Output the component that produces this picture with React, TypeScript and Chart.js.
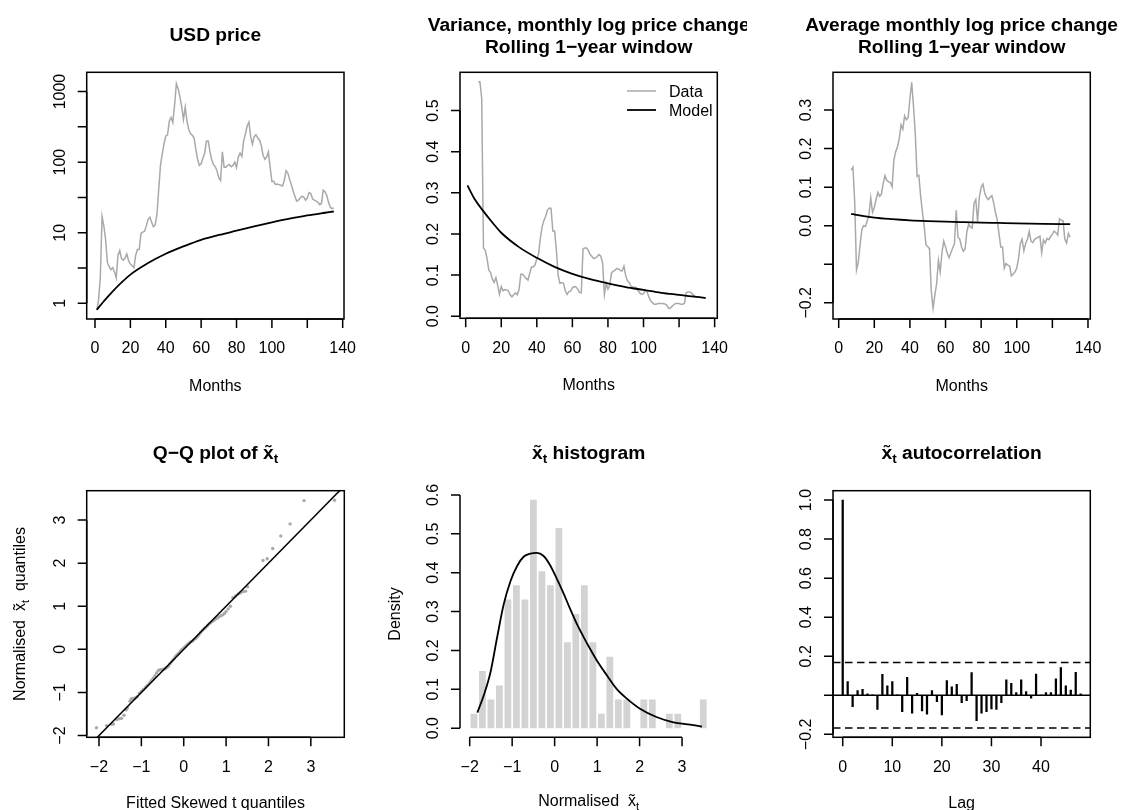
import React, { useEffect, useRef } from "react";
import { Chart, registerables } from "chart.js";
Chart.register(...registerables);

const FONT = '"Liberation Sans", Arial, Helvetica, sans-serif';
const GRAY = "#a9a9a9";
const LIGHT = "#d3d3d3";

// ---------- Panel 1: USD price ----------
const priceStartMonth = 1;
const priceUSD = [
  0.8, 1.1, 2.3, 17, 12.5, 8, 3.8, 3.3, 3.0, 3.2,
  2.8, 2.3, 4.8, 5.6, 4.3, 4.1, 4.4, 5.0, 4.0, 3.6,
  3.4, 3.2, 4.8, 5.8, 5.8, 9.8, 10.2, 10.5, 12.5, 15.5,
  16.6, 14.2, 12.2, 12.8, 18, 40, 90, 130, 180, 235,
  244, 380, 430, 365, 650, 1300, 1100, 840, 610, 400,
  600, 380, 290, 255, 240, 220, 150, 110, 90, 95,
  115, 135, 200, 200, 141, 106, 92, 86, 75, 60,
  55, 140, 85, 85, 90, 92, 86, 90, 100, 84,
  118, 134, 120, 200, 250, 325, 370, 230, 180, 230,
  245, 220, 205, 172, 125, 110, 118, 140, 85, 53,
  54, 48, 49, 48, 47, 46, 55, 76, 70, 57,
  48, 39, 33, 28, 29, 31, 33, 32, 29, 31,
  37, 36, 30, 29, 28, 27, 25, 26, 40, 38,
  34, 27, 23, 22, 22.5,
];
const priceModelMonths = [1, 5, 10, 20, 30, 40, 50, 60, 70, 80, 90, 100, 110, 120, 130, 135];
const priceModel = [0.81, 1.07, 1.48, 2.55, 3.72, 5.04, 6.41, 7.95, 9.3, 10.7, 12.3, 14.0, 15.8, 17.6, 19.2, 20.0];
const monthTicks = [0, 20, 40, 60, 80, 100, 120, 140];
const monthTickLabels = ["0", "20", "40", "60", "80", "100", "", "140"];
const priceTickExps = [0, 0.5, 1, 1.5, 2, 2.5, 3];
const priceTickLabels = ["1", "", "10", "", "100", "", "1000"];

// ---------- Panel 2: rolling variance ----------
const rollStartMonth = 7;
const rollVariance = [
  0.57, 0.57, 0.53, 0.166, 0.16, 0.14, 0.112, 0.106, 0.09, 0.082,
  0.094, 0.075, 0.053, 0.072, 0.062, 0.065, 0.064, 0.062, 0.052, 0.047,
  0.052, 0.057, 0.052, 0.065, 0.102, 0.102, 0.097, 0.092, 0.088, 0.104,
  0.12, 0.12, 0.125, 0.14, 0.152, 0.19, 0.218, 0.233, 0.243, 0.258,
  0.263, 0.262, 0.207, 0.207, 0.16, 0.1, 0.08, 0.082, 0.08, 0.062,
  0.053, 0.06, 0.061, 0.069, 0.072, 0.071, 0.066, 0.058, 0.057, 0.164,
  0.166, 0.166, 0.16, 0.15, 0.145, 0.14, 0.142, 0.145, 0.15, 0.146,
  0.13, 0.053, 0.08, 0.066, 0.075, 0.105, 0.11, 0.112, 0.116, 0.115,
  0.111, 0.11, 0.122, 0.098, 0.086, 0.082, 0.073, 0.071, 0.07, 0.07,
  0.062, 0.056, 0.053, 0.055, 0.064, 0.06, 0.047, 0.038, 0.033, 0.029,
  0.029, 0.031, 0.031, 0.031, 0.031, 0.03, 0.027, 0.02, 0.019, 0.024,
  0.028, 0.031, 0.031, 0.031, 0.029, 0.029, 0.031, 0.057, 0.059, 0.059,
  0.056, 0.052, 0.047, 0.046,
];
const varModelMonths = [1, 5, 10, 15, 20, 30, 40, 50, 60, 70, 80, 90, 100, 110, 120, 130, 135];
const varModel = [0.318, 0.285, 0.255, 0.228, 0.203, 0.168, 0.142, 0.12, 0.103, 0.09, 0.08, 0.071, 0.064, 0.057, 0.052, 0.047, 0.044];
const varTicks = [0, 0.1, 0.2, 0.3, 0.4, 0.5];
const varTickLabels = ["0.0", "0.1", "0.2", "0.3", "0.4", "0.5"];

// ---------- Panel 3: rolling mean ----------
const rollMean = [
  0.144, 0.152, 0.06, -0.115, -0.095, -0.05, -0.01, 0.0, -0.002, 0.012,
  0.028, 0.072, 0.035, 0.048, 0.068, 0.086, 0.076, 0.082, 0.11, 0.13,
  0.118, 0.114, 0.112, 0.101, 0.17, 0.192, 0.205, 0.225, 0.262, 0.25,
  0.285, 0.275, 0.28, 0.33, 0.372, 0.31, 0.24, 0.128, 0.131, 0.078,
  0.036, 0.0, -0.05, -0.054, -0.06, -0.17, -0.214, -0.18, -0.15, -0.09,
  -0.12, -0.07, -0.04, -0.055, -0.072, -0.083, -0.07, -0.058, -0.047, 0.04,
  -0.03, -0.035, -0.055, -0.066, -0.06, -0.015, 0.004, -0.003, -0.006, 0.058,
  0.068, 0.01, 0.075, 0.1, 0.108, 0.085, 0.073, 0.068, 0.074, 0.078,
  0.06, 0.035, 0.015, -0.02, -0.055, -0.055, -0.11, -0.098, -0.102, -0.105,
  -0.13, -0.125, -0.12, -0.11, -0.085, -0.046, -0.035, -0.065, -0.046, -0.035,
  -0.015, -0.04, -0.044, -0.036, -0.032, -0.03, -0.027, -0.07, -0.037, -0.045,
  -0.033, -0.036, -0.028, -0.022, -0.014, -0.018, -0.024, 0.018, 0.014, 0.013,
  -0.035, -0.045, -0.02, -0.03,
];
const meanModelMonths = [7, 10, 20, 30, 40, 50, 60, 70, 80, 90, 100, 115, 130];
const meanModel = [0.031, 0.028, 0.021, 0.017, 0.014, 0.012, 0.0105, 0.0093, 0.0082, 0.0072, 0.0062, 0.005, 0.004];
const meanTicks = [-0.2, -0.1, 0, 0.1, 0.2, 0.3];
const meanTickLabels = ["\u22120.2", "", "0.0", "0.1", "0.2", "0.3"];

// ---------- Panel 4: Q-Q ----------
const qqTheoretical = [
  -2.06, -1.82, -1.7, -1.66, -1.58, -1.52, -1.47, -1.41, -1.36, -1.33,
  -1.27, -1.24, -1.2, -1.15, -1.1, -1.05, -1.0, -0.95, -0.9, -0.86,
  -0.81, -0.77, -0.72, -0.68, -0.64, -0.6, -0.56, -0.52, -0.48, -0.44,
  -0.4, -0.36, -0.32, -0.28, -0.24, -0.2, -0.16, -0.12, -0.08, -0.04,
  0.0, 0.04, 0.08, 0.12, 0.16, 0.2, 0.24, 0.28, 0.32, 0.36,
  0.4, 0.44, 0.48, 0.52, 0.56, 0.6, 0.64, 0.68, 0.72, 0.76,
  0.8, 0.84, 0.88, 0.92, 0.96, 1.0, 1.05, 1.1, 1.16, 1.22,
  1.28, 1.34, 1.4, 1.46, 1.51, 1.87, 1.97, 2.1, 2.29, 2.51,
  2.84, 3.56,
];
const qqSample = [
  -1.82, -1.77, -1.74, -1.73, -1.63, -1.61, -1.6, -1.53, -1.4, -1.36,
  -1.2, -1.15, -1.14, -1.13, -1.1, -1.02, -0.97, -0.93, -0.88, -0.83,
  -0.78, -0.73, -0.67, -0.61, -0.55, -0.49, -0.47, -0.47, -0.46, -0.45,
  -0.42, -0.39, -0.33, -0.28, -0.23, -0.17, -0.13, -0.09, -0.04, 0.0,
  0.03, 0.07, 0.11, 0.14, 0.17, 0.19, 0.22, 0.25, 0.29, 0.34,
  0.39, 0.44, 0.48, 0.51, 0.55, 0.59, 0.62, 0.65, 0.68, 0.71,
  0.73, 0.76, 0.78, 0.8, 0.83, 0.88, 0.94, 1.0, 1.2, 1.24,
  1.28, 1.31, 1.34, 1.35, 1.45, 2.06, 2.1, 2.34, 2.63, 2.91,
  3.45, 3.46,
];
const qqRefLine = [-2.4, 3.9]; // y = x reference line
const qqTicks = [-2, -1, 0, 1, 2, 3];
const qqTickLabels = ["\u22122", "\u22121", "0", "1", "2", "3"];

// ---------- Panel 5: histogram ----------
const histMids = [
  -1.9, -1.7, -1.5, -1.3, -1.1, -0.9, -0.7, -0.5, -0.3, -0.1,
  0.1, 0.3, 0.5, 0.7, 0.9, 1.1, 1.3, 1.5, 1.7, 1.9,
  2.1, 2.3, 2.5, 2.7, 2.9, 3.1, 3.3, 3.5,
];
const histDensity = [
  0.037, 0.147, 0.074, 0.11, 0.331, 0.368, 0.331, 0.588, 0.404, 0.368,
  0.515, 0.221, 0.294, 0.368, 0.221, 0.037, 0.184, 0.074, 0.074, 0,
  0.074, 0.074, 0, 0.037, 0.037, 0, 0, 0.074,
];
const densX = [-1.82, -1.67, -1.51, -1.36, -1.2, -1.04, -0.88, -0.73, -0.57, -0.42, -0.26, -0.11, 0.05, 0.21, 0.36, 0.52, 0.68, 0.83, 0.99, 1.23, 1.46, 1.7, 2.01, 2.41, 2.8, 3.19, 3.47];
const densY = [0.04, 0.084, 0.144, 0.23, 0.318, 0.378, 0.418, 0.441, 0.449, 0.451, 0.443, 0.42, 0.385, 0.347, 0.308, 0.269, 0.235, 0.205, 0.175, 0.136, 0.101, 0.076, 0.05, 0.028, 0.015, 0.009, 0.004];
const histYTicks = [0, 0.1, 0.2, 0.3, 0.4, 0.5, 0.6];
const histYTickLabels = ["0.0", "0.1", "0.2", "0.3", "0.4", "0.5", "0.6"];

// ---------- Panel 6: ACF ----------
const acfValues = [
  1.0, 0.07, -0.058, 0.024, 0.031, 0.008, 0.003, -0.072, 0.108, 0.048,
  0.07, 0.002, -0.084, 0.092, -0.092, 0.01, -0.08, -0.096, 0.024, -0.032,
  -0.1, 0.075, 0.044, 0.056, -0.038, -0.027, 0.116, -0.13, -0.092, -0.084,
  -0.07, -0.072, -0.038, 0.079, 0.061, 0.014, 0.079, 0.019, -0.015, 0.109,
  0.001, 0.014, 0.014, 0.085, 0.142, 0.048, 0.027, 0.118, 0.008,
];
const acfBound = 0.168;
const lagTicks = [0, 10, 20, 30, 40];
const lagTickLabels = ["0", "10", "20", "30", "40"];
const acfTicks = [-0.2, 0, 0.2, 0.4, 0.6, 0.8, 1.0];
const acfTickLabels = ["\u22120.2", "", "0.2", "0.4", "0.6", "0.8", "1.0"];

// ---------- helpers ----------
type Seg = { t: string; sub?: boolean };
const XT = "x\u0303";

type PanelSpec = {
  left: number; top: number; width: number; height: number;
  area: [number, number, number, number];
  xr: [number, number]; yr: [number, number]; yLog?: boolean;
  xTicks: number[]; xLabels: string[]; yTicks: number[]; yLabels: string[];
  title: Seg[][]; titleY: number[];
  xTitle: Seg[]; xTitleDy: number; yTitle: Seg[]; yTitleX: number;
  box: boolean;
  type: "line" | "bar";
  datasets: any[];
  legend?: { x1: number; x2: number; tx: number; ys: number[]; items: { label: string; color: string; width: number }[] };
};

function drawRich(ctx: CanvasRenderingContext2D, segs: Seg[], x: number, y: number, size: number, bold: boolean, rot = false) {
  ctx.save();
  ctx.translate(x, y);
  if (rot) ctx.rotate(-Math.PI / 2);
  const f = (s: number) => `${bold ? "bold " : ""}${s}px ${FONT}`;
  let total = 0;
  const widths = segs.map((s) => {
    ctx.font = f(s.sub ? size * 0.7 : size);
    const w = ctx.measureText(s.t).width;
    total += w;
    return w;
  });
  let cx = -total / 2;
  ctx.textAlign = "left";
  ctx.textBaseline = "alphabetic";
  ctx.fillStyle = "#000";
  segs.forEach((s, i) => {
    ctx.font = f(s.sub ? size * 0.7 : size);
    ctx.fillText(s.t, cx, s.sub ? size * 0.25 : 0);
    cx += widths[i];
  });
  ctx.restore();
}

function pts(xs: number[], ys: number[]) {
  return xs.map((x, i) => ({ x, y: ys[i] }));
}
function seq(start: number, n: number) {
  return Array.from({ length: n }, (_, i) => start + i);
}

function makePlugin(spec: PanelSpec) {
  return {
    id: "rstyle",
    afterDatasetsDraw(chart: any) {
      const ctx: CanvasRenderingContext2D = chart.ctx;
      const xs = chart.scales.x;
      const ys = chart.scales.y;
      const [L, T, R, B] = spec.area;
      ctx.save();
      ctx.strokeStyle = "#000";
      ctx.fillStyle = "#000";
      ctx.lineWidth = 1.5;
      ctx.setLineDash([]);
      if (spec.box) ctx.strokeRect(L, T, R - L, B - T);
      // x axis
      const xp = spec.xTicks.map((v) => xs.getPixelForValue(v));
      ctx.beginPath();
      ctx.moveTo(xp[0], B);
      ctx.lineTo(xp[xp.length - 1], B);
      xp.forEach((p) => { ctx.moveTo(p, B); ctx.lineTo(p, B + 9); });
      ctx.stroke();
      ctx.font = `16px ${FONT}`;
      ctx.textAlign = "center";
      ctx.textBaseline = "alphabetic";
      spec.xLabels.forEach((s, i) => { if (s) ctx.fillText(s, xp[i], B + 34.3); });
      // y axis
      const yp = spec.yTicks.map((v) => ys.getPixelForValue(v));
      ctx.beginPath();
      ctx.moveTo(L, yp[0]);
      ctx.lineTo(L, yp[yp.length - 1]);
      yp.forEach((p) => { ctx.moveTo(L, p); ctx.lineTo(L - 9, p); });
      ctx.stroke();
      spec.yLabels.forEach((s, i) => {
        if (!s) return;
        ctx.save();
        ctx.translate(L - 21.7, yp[i]);
        ctx.rotate(-Math.PI / 2);
        ctx.fillText(s, 0, 0);
        ctx.restore();
      });
      ctx.restore();
      // titles
      const cx = (L + R) / 2;
      spec.title.forEach((line, i) => drawRich(ctx, line, cx, spec.titleY[i], 19.2, true));
      drawRich(ctx, spec.xTitle, cx, B + spec.xTitleDy, 16, false);
      drawRich(ctx, spec.yTitle, spec.yTitleX, (T + B) / 2, 16, false, true);
      // legend
      if (spec.legend) {
        const lg = spec.legend;
        ctx.save();
        lg.items.forEach((it, i) => {
          ctx.strokeStyle = it.color;
          ctx.lineWidth = it.width;
          ctx.beginPath();
          ctx.moveTo(lg.x1, lg.ys[i]);
          ctx.lineTo(lg.x2, lg.ys[i]);
          ctx.stroke();
          ctx.fillStyle = "#000";
          ctx.font = `16px ${FONT}`;
          ctx.textAlign = "left";
          ctx.textBaseline = "alphabetic";
          ctx.fillText(it.label, lg.tx, lg.ys[i] + 6);
        });
        ctx.restore();
      }
    },
  };
}

function Panel({ spec }: { spec: PanelSpec }) {
  const ref = useRef<HTMLCanvasElement | null>(null);
  useEffect(() => {
    if (!ref.current) return;
    const [L, T, R, B] = spec.area;
    const chart = new Chart(ref.current, {
      type: spec.type as any,
      data: { datasets: spec.datasets },
      options: {
        animation: false,
        responsive: false,
        devicePixelRatio: 1,
        events: [],
        layout: { padding: { left: L, top: T, right: spec.width - R, bottom: spec.height - B } },
        plugins: { legend: { display: false }, tooltip: { enabled: false }, title: { display: false } },
        scales: {
          x: { type: "linear", min: spec.xr[0], max: spec.xr[1], display: false, offset: false },
          y: { type: spec.yLog ? "logarithmic" : "linear", min: spec.yr[0], max: spec.yr[1], display: false },
        },
      } as any,
      plugins: [makePlugin(spec)],
    });
    return () => chart.destroy();
  }, [spec]);
  return (
    <canvas
      ref={ref}
      width={spec.width}
      height={spec.height}
      style={{ position: "absolute", left: spec.left, top: spec.top, width: spec.width, height: spec.height }}
    />
  );
}

const lineDs = (data: any[], color: string, width: number, order: number, smooth = false, extra: any = {}) => ({
  type: "line",
  data,
  borderColor: color,
  borderWidth: width,
  pointRadius: 0,
  fill: false,
  tension: 0,
  cubicInterpolationMode: smooth ? "monotone" : "default",
  order,
  ...extra,
});

const rollMonths = seq(rollStartMonth, rollVariance.length);
const rollMeanMonths = seq(rollStartMonth, rollMean.length);
const priceMonths = seq(priceStartMonth, priceUSD.length);

const P1: PanelSpec = {
  left: 0, top: 0, width: 373, height: 405,
  area: [86.7, 72.3, 344, 319],
  xr: [-4.69, 140.75], yr: [0.608, 1875], yLog: true,
  xTicks: monthTicks, xLabels: monthTickLabels,
  yTicks: priceTickExps.map((e) => Math.pow(10, e)), yLabels: priceTickLabels,
  title: [[{ t: "USD price" }]], titleY: [41],
  xTitle: [{ t: "Months" }], xTitleDy: 71.7, yTitle: [], yTitleX: 25,
  box: true, type: "line",
  datasets: [
    lineDs(pts(priceModelMonths, priceModel), "#000", 1.8, 0, true),
    lineDs(pts(priceMonths, priceUSD), GRAY, 1.5, 1),
  ],
};

const P2: PanelSpec = {
  left: 373, top: 0, width: 374, height: 405,
  area: [87, 72.3, 344.3, 318.3],
  xr: [-3.2, 141.5], yr: [-0.005, 0.593],
  xTicks: monthTicks, xLabels: monthTickLabels,
  yTicks: varTicks, yLabels: varTickLabels,
  title: [[{ t: "Variance, monthly log price change" }], [{ t: "Rolling 1\u2212year window" }]], titleY: [30.5, 53],
  xTitle: [{ t: "Months" }], xTitleDy: 71.7, yTitle: [], yTitleX: 25,
  box: true, type: "line",
  datasets: [
    lineDs(pts(varModelMonths, varModel), "#000", 1.8, 0, true),
    lineDs(pts(rollMonths, rollVariance), GRAY, 1.5, 1),
  ],
  legend: {
    x1: 254, x2: 283, tx: 296, ys: [91, 110],
    items: [
      { label: "Data", color: GRAY, width: 1.5 },
      { label: "Model", color: "#000", width: 1.8 },
    ],
  },
};

const P3: PanelSpec = {
  left: 747, top: 0, width: 376, height: 405,
  area: [86, 72.3, 343.3, 319],
  xr: [-3.2, 141.3], yr: [-0.242, 0.398],
  xTicks: monthTicks, xLabels: monthTickLabels,
  yTicks: meanTicks, yLabels: meanTickLabels,
  title: [[{ t: "Average monthly log price change" }], [{ t: "Rolling 1\u2212year window" }]], titleY: [30.5, 53],
  xTitle: [{ t: "Months" }], xTitleDy: 71.7, yTitle: [], yTitleX: 25,
  box: true, type: "line",
  datasets: [
    lineDs(pts(meanModelMonths, meanModel), "#000", 1.8, 0, true),
    lineDs(pts(rollMeanMonths, rollMean), GRAY, 1.5, 1),
  ],
};

const P4: PanelSpec = {
  left: 0, top: 405, width: 373, height: 405,
  area: [86.7, 85.7, 344.3, 332.3],
  xr: [-2.29, 3.79], yr: [-2.04, 3.68],
  xTicks: qqTicks, xLabels: qqTickLabels, yTicks: qqTicks, yLabels: qqTickLabels,
  title: [[{ t: "Q\u2212Q plot of " + XT }, { t: "t", sub: true }]], titleY: [53.5],
  xTitle: [{ t: "Fitted Skewed t quantiles" }], xTitleDy: 71,
  yTitle: [{ t: "Normalised  " + XT }, { t: "t", sub: true }, { t: "  quantiles" }], yTitleX: 25,
  box: true, type: "line",
  datasets: [
    lineDs(pts(qqRefLine, qqRefLine), "#000", 1.5, 0),
    { type: "scatter", data: pts(qqTheoretical, qqSample), pointRadius: 1.7, pointBackgroundColor: GRAY, pointBorderWidth: 0, showLine: false, order: 1 },
  ],
};

const P5: PanelSpec = {
  left: 373, top: 405, width: 374, height: 405,
  area: [87, 85.7, 344.3, 332.3],
  xr: [-2.228, 3.83], yr: [-0.0235, 0.611],
  xTicks: qqTicks, xLabels: qqTickLabels, yTicks: histYTicks, yLabels: histYTickLabels,
  title: [[{ t: XT }, { t: "t", sub: true }, { t: " histogram" }]], titleY: [53.5],
  xTitle: [{ t: "Normalised  " + XT }, { t: "t", sub: true }], xTitleDy: 68.5,
  yTitle: [{ t: "Density" }], yTitleX: 26.5,
  box: false, type: "bar",
  datasets: [
    lineDs(pts(densX, densY), "#000", 1.8, 0, true),
    { type: "bar", data: pts(histMids, histDensity), backgroundColor: LIGHT, borderWidth: 0, barPercentage: 0.8, categoryPercentage: 1, order: 1 },
  ],
};

const acfLags = seq(0, acfValues.length);
const acfXRange: [number, number] = [-1.96, 49.94];
const P6: PanelSpec = {
  left: 747, top: 405, width: 376, height: 405,
  area: [86, 85.7, 343.3, 332.3],
  xr: acfXRange, yr: [-0.215, 1.048],
  xTicks: lagTicks, xLabels: lagTickLabels, yTicks: acfTicks, yLabels: acfTickLabels,
  title: [[{ t: XT }, { t: "t", sub: true }, { t: " autocorrelation" }]], titleY: [53.5],
  xTitle: [{ t: "Lag" }], xTitleDy: 71, yTitle: [], yTitleX: 25,
  box: true, type: "bar",
  datasets: [
    lineDs(pts(acfXRange, [0, 0]), "#000", 1.5, 0),
    lineDs(pts(acfXRange, [acfBound, acfBound]), "#000", 1.5, 0, false, { borderDash: [7.5, 4.5] }),
    lineDs(pts(acfXRange, [-acfBound, -acfBound]), "#000", 1.5, 0, false, { borderDash: [7.5, 4.5] }),
    { type: "bar", data: pts(acfLags, acfValues), backgroundColor: "#000", borderWidth: 0, barThickness: 1.6, order: 1 },
  ],
};

const PANELS = [P1, P2, P3, P4, P5, P6];

export default function App() {
  return (
    <div style={{ position: "absolute", left: 0, top: 0, width: 1123, height: 810, background: "#fff", overflow: "hidden" }}>
      {PANELS.map((p, i) => (
        <Panel key={i} spec={p} />
      ))}
    </div>
  );
}
